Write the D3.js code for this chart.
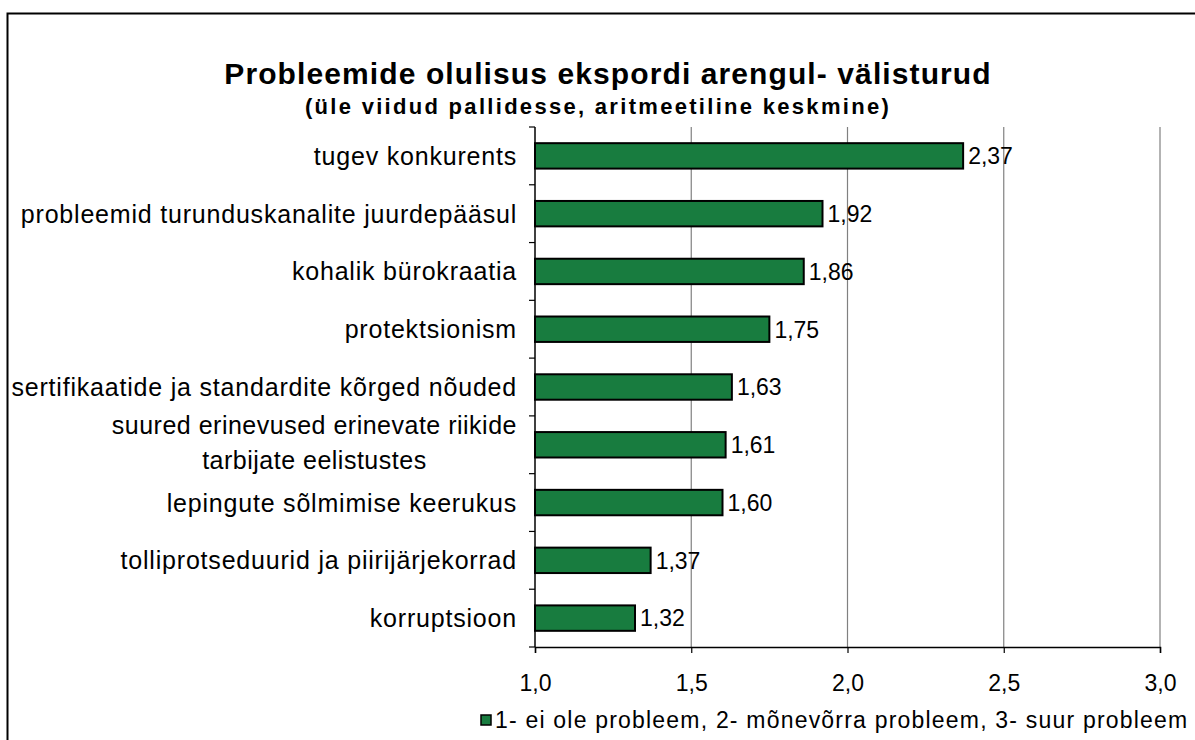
<!DOCTYPE html>
<html>
<head>
<meta charset="utf-8">
<script src="https://cdn.jsdelivr.net/npm/d3@7"></script>
<style>
  body { margin: 0; background: #fff; }
  svg { font-family: "Liberation Sans", Arial, sans-serif; }
</style>
</head>
<body>
<svg id="chart" width="1195" height="740"></svg>
<script>

let categories = [
  ["tugev konkurents"],
  ["probleemid turunduskanalite juurdepääsul"],
  ["kohalik bürokraatia"],
  ["protektsionism"],
  ["sertifikaatide ja standardite kõrged nõuded"],
  ["suured erinevused erinevate riikide", "tarbijate eelistustes"],
  ["lepingute sõlmimise keerukus"],
  ["tolliprotseduurid ja piirijärjekorrad"],
  ["korruptsioon"]
];
let values = [2.37, 1.92, 1.86, 1.75, 1.63, 1.61, 1.60, 1.37, 1.32];
let xTicks = [1.0, 1.5, 2.0, 2.5, 3.0];
let title = "Probleemide olulisus ekspordi arengul- välisturud";
let subtitle = "(üle viidud pallidesse, aritmeetiline keskmine)";
let legendText = "1- ei ole probleem, 2- mõnevõrra probleem, 3- suur probleem";

let svg = d3.select("svg#chart");
let margin = { "top": 127, "right": 35, "bottom": 93, "left": 535 };
let width = +svg.attr("width");
let height = +svg.attr("height");
let chartWidth = width - margin.left - margin.right;
let chartHeight = height - margin.top - margin.bottom;
let fmt = function(v, d) { return v.toFixed(d).replace(".", ","); };

// outer frame
svg.append("path")
  .attr("d", "M7.5,740 L7.5,13.5 L1195,13.5")
  .attr("fill", "none")
  .attr("stroke", "#000")
  .attr("stroke-width", 2);

svg.append("text")
  .attr("x", 608).attr("y", 84)
  .attr("text-anchor", "middle")
  .attr("font-size", 30).attr("font-weight", "bold")
  .attr("letter-spacing", 1.1)
  .text(title);
svg.append("text")
  .attr("x", 598).attr("y", 114)
  .attr("text-anchor", "middle")
  .attr("font-size", 22).attr("font-weight", "bold")
  .attr("letter-spacing", 2.3)
  .text(subtitle);

let g = svg.append("g").attr("transform", "translate(" + margin.left + "," + margin.top + ")");

let xScale = d3.scaleLinear().domain([1, 3]).range([0, chartWidth]);
let yScale = d3.scaleBand().domain(d3.range(values.length)).range([0, chartHeight]).paddingInner(0.56).paddingOuter(0.28);

// gridlines
g.selectAll("line.grid")
  .data(xTicks.slice(1))
  .enter().append("line")
  .attr("x1", d => xScale(d)).attr("x2", d => xScale(d))
  .attr("y1", 0).attr("y2", chartHeight)
  .attr("stroke", "#808080").attr("stroke-width", 1.2);

g.selectAll("rect.bar")
  .data(values)
  .enter().append("rect")
  .attr("x", xScale(1))
  .attr("y", (d, i) => yScale(i))
  .attr("width", d => xScale(d) - xScale(1))
  .attr("height", yScale.bandwidth())
  .attr("fill", "#187c3f")
  .attr("stroke", "#000")
  .attr("stroke-width", 2);

g.selectAll("text.val")
  .data(values)
  .enter().append("text")
  .attr("x", d => xScale(d) + 5)
  .attr("y", (d, i) => yScale(i) + yScale.bandwidth() / 2)
  .attr("dy", "0.36em")
  .attr("font-size", 23)
  .text(d => fmt(d, 2));

// y axis line with category ticks between bands
let step = chartHeight / values.length;
g.append("line")
  .attr("x1", 0).attr("x2", 0).attr("y1", 0).attr("y2", chartHeight)
  .attr("stroke", "#000").attr("stroke-width", 1.5);
g.selectAll("line.ytick")
  .data(d3.range(values.length + 1))
  .enter().append("line")
  .attr("x1", -6).attr("x2", 0)
  .attr("y1", d => d * step).attr("y2", d => d * step)
  .attr("stroke", "#000").attr("stroke-width", 1.2);

// category labels
categories.forEach(function(lines, i) {
  let cy = yScale(i) + yScale.bandwidth() / 2;
  if (lines.length === 1) {
    g.append("text")
      .attr("x", -18).attr("y", cy).attr("dy", "0.36em")
      .attr("text-anchor", "end")
      .attr("font-size", 25).attr("letter-spacing", 0.8)
      .text(lines[0]);
  } else {
    let t = g.append("text").attr("font-size", 25).attr("letter-spacing", 0.5).attr("text-anchor", "middle");
    let spans = lines.map((l, k) => t.append("tspan")
      .attr("y", cy - 20 + k * 35).attr("dy", "0.36em").text(l));
    let w = d3.max(spans, s => s.node().getComputedTextLength());
    spans.forEach(s => s.attr("x", -18 - w / 2));
  }
});

// x axis
let xAxis = d3.axisBottom(xScale).tickValues(xTicks).tickSize(6).tickFormat(d => fmt(d, 1));
let ax = g.append("g").attr("transform", "translate(0," + chartHeight + ")").call(xAxis);
ax.select(".domain").attr("stroke", "#000").attr("stroke-width", 1.5);
ax.selectAll(".tick line").attr("stroke", "#000").attr("stroke-width", 1.2);
ax.selectAll(".tick text")
  .attr("font-family", "Liberation Sans, Arial, sans-serif")
  .attr("font-size", 23).attr("fill", "#000").attr("y", 28);

// legend
svg.append("rect")
  .attr("x", 481).attr("y", 715).attr("width", 10).attr("height", 10)
  .attr("fill", "#187c3f").attr("stroke", "#000").attr("stroke-width", 1.5);
svg.append("text")
  .attr("x", 495).attr("y", 720).attr("dy", "0.36em")
  .attr("font-size", 23).attr("letter-spacing", 1.2)
  .text(legendText);

</script>
</body>
</html>
